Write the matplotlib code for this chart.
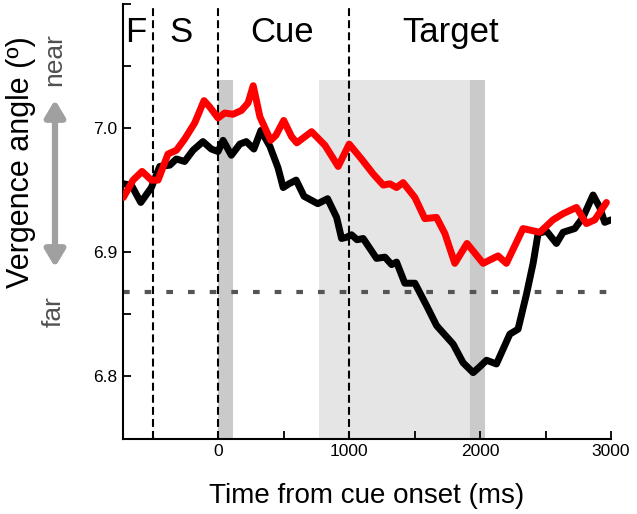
import matplotlib
matplotlib.use("Agg")
import matplotlib.pyplot as plt
from matplotlib.patches import FancyArrowPatch

plt.rcParams['font.family'] = ['Liberation Sans', 'DejaVu Sans']

# ---- data ----
black_t = [-725, -664, -592, -511, -447, -371, -320, -257, -193, -117, -53, -2, 37, 100,
           165, 214, 272, 326, 395, 456, 496, 540, 595, 655, 760, 835, 904, 942, 980,
           1018, 1060, 1107, 1209, 1273, 1324, 1362, 1425, 1502, 1591, 1667, 1692, 1794,
           1870, 1947, 2000, 2049, 2125, 2227, 2290, 2354, 2405, 2443, 2507, 2583, 2634,
           2723, 2786, 2863, 2914, 2952, 3000]
black_v = [6.955, 6.954, 6.940, 6.952, 6.969, 6.970, 6.975, 6.973, 6.982, 6.989, 6.983,
           6.981, 6.990, 6.978, 6.987, 6.989, 6.983, 6.998, 6.985, 6.968, 6.952, 6.955,
           6.958, 6.945, 6.939, 6.943, 6.928, 6.911, 6.912, 6.914, 6.910, 6.911, 6.895,
           6.896, 6.890, 6.892, 6.875, 6.875, 6.857, 6.841, 6.838, 6.826, 6.811, 6.803,
           6.808, 6.813, 6.810, 6.834, 6.838, 6.866, 6.891, 6.915, 6.917, 6.907, 6.916,
           6.919, 6.928, 6.946, 6.936, 6.924, 6.926]

red_t = [-725, -651, -582, -511, -460, -384, -320, -257, -180, -109, -66, -2, 49, 112,
         176, 227, 267, 318, 400, 440, 500, 560, 600, 713, 815, 916, 1000, 1094, 1183,
         1260, 1311, 1362, 1412, 1502, 1578, 1667, 1731, 1807, 1900, 2023, 2137, 2201,
         2328, 2456, 2557, 2634, 2736, 2812, 2876, 2965]
red_v = [6.944, 6.958, 6.965, 6.958, 6.958, 6.979, 6.982, 6.991, 7.004, 7.022, 7.017,
         7.008, 7.012, 7.011, 7.014, 7.020, 7.034, 7.009, 6.990, 6.994, 7.006, 6.993,
         6.988, 6.997, 6.986, 6.969, 6.987, 6.975, 6.963, 6.954, 6.955, 6.952, 6.956,
         6.944, 6.927, 6.928, 6.915, 6.891, 6.907, 6.891, 6.897, 6.891, 6.919, 6.916,
         6.926, 6.931, 6.936, 6.923, 6.926, 6.940]

epoch_lines = [-500, 0, 1000]
epoch_labels = ['F', 'S', 'Cue', 'Target']
epoch_label_t = [-634, -285, 486, 1776]
light_band = (770, 1925)
dark_bands = [(0, 110), (1925, 2040)]
band_top = 7.0385
baseline = 6.8677

xticks = [-500, 0, 500, 1000, 1500, 2000, 2500, 3000]
xticklabels = ['', '0', '', '1000', '', '2000', '', '3000']
yticks = [6.8, 6.85, 6.9, 6.95, 7.0, 7.05, 7.1]
yticklabels = ['6.8', '', '6.9', '', '7.0', '', '']

# ---- figure ----
W, H = 637, 514
fig = plt.figure(figsize=(W / 100, H / 100), dpi=100)
ax = fig.add_axes([122.7 / W, (H - 438.5) / H, (611 - 122.7) / W, (438.5 - 3.7) / H])
ax.set_xlim(-730, 3000)
ax.set_ylim(6.75, 7.1)

# shaded bands
ax.fill_between(light_band, 6.75, band_top, color='#e5e5e5', lw=0, zorder=0)
for a, b in dark_bands:
    ax.fill_between((a, b), 6.75, band_top, color='#cacaca', lw=0, zorder=0.5)

# dashed epoch lines
for t in epoch_lines:
    ax.plot([t, t], [6.75, 7.1], color='black', lw=1.5, dashes=(3.8, 2), zorder=1)

# baseline
ax.plot([-730, 3000], [baseline, baseline], color='#555555', lw=3, dashes=(1.6, 3.6), zorder=1)

# traces
ax.plot(red_t, red_v, color='#ff0000', lw=5, solid_joinstyle='round', solid_capstyle='round', zorder=3)
ax.plot(black_t, black_v, color='black', lw=5, solid_joinstyle='round', solid_capstyle='round', zorder=2.5)

# epoch labels
for t, s in zip(epoch_label_t, epoch_labels):
    ax.text(t, 7.069, s, ha='center', va='baseline', fontsize=25, color='black')

# axes style
for side in ['top', 'right']:
    ax.spines[side].set_visible(False)
for side in ['left', 'bottom']:
    ax.spines[side].set_linewidth(1.5)
ax.set_xticks(xticks)
ax.set_xticklabels(xticklabels)
ax.set_yticks(yticks)
ax.set_yticklabels(yticklabels)
ax.tick_params(direction='in', length=5.5, width=1.3, labelsize=12.5, pad=4)
ax.set_xlabel('Time from cue onset (ms)', fontsize=20, labelpad=17)

# y label, near/far and arrow
fig.text(21 / W, 1 - 162 / H, 'Vergence angle (º)', rotation=90, ha='center', va='center', fontsize=22)
fig.text(54 / W, 1 - 60 / H, 'near', rotation=90, ha='center', va='center', fontsize=19, color='#505050')
fig.text(54 / W, 1 - 312 / H, 'far', rotation=90, ha='center', va='center', fontsize=19, color='#505050')
arr = FancyArrowPatch((55 / W, 1 - 270 / H), (55 / W, 1 - 97 / H), transform=fig.transFigure,
                      arrowstyle='<|-|>,head_length=10,head_width=6', mutation_scale=1,
                      lw=4.5, color='#a0a0a0')
fig.add_artist(arr)

fig.savefig('out.png', dpi=100)
